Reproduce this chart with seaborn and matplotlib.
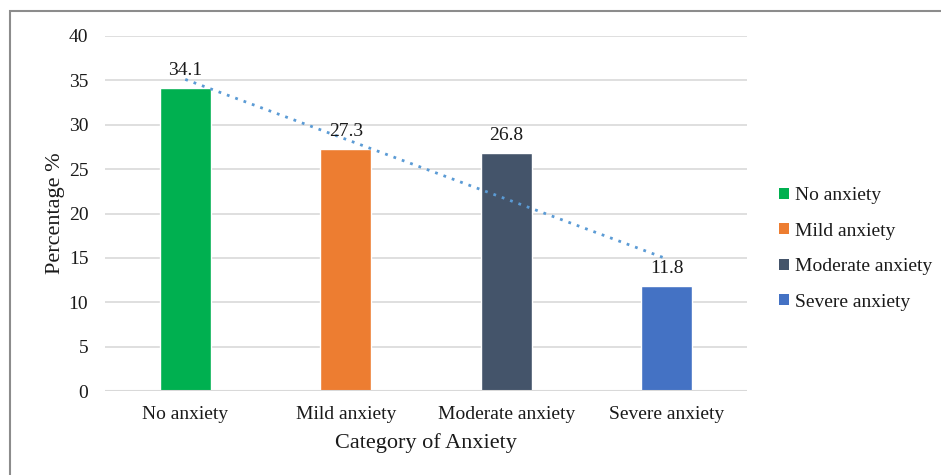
import numpy as np
import pandas as pd
import matplotlib
matplotlib.use("Agg")
import matplotlib.pyplot as plt
from matplotlib.patches import Rectangle, Patch
import seaborn as sns

categories = ["No anxiety", "Mild anxiety", "Moderate anxiety", "Severe anxiety"]
percentages = [34.1, 27.3, 26.8, 11.8]
colors = ["#00B050", "#ED7D31", "#44546A", "#4472C4"]
y_ticks = [0, 5, 10, 15, 20, 25, 30, 35, 40]

sns.set_theme(style="white")
plt.rcParams["font.family"] = ["Liberation Serif", "DejaVu Serif"]

df = pd.DataFrame({"Category": categories, "Percentage": percentages})

fig = plt.figure(figsize=(9.41, 4.75), dpi=100)
ax = fig.add_axes([105 / 941, 1 - 391 / 475, 642 / 941, 355 / 475])

sns.barplot(data=df, x="Category", y="Percentage", hue="Category",
            palette=colors, width=0.32, saturation=1, legend=False, ax=ax)

# linear trend line across the categories
xs = np.arange(len(categories))
slope, intercept = np.polyfit(xs, percentages, 1)
ax.plot(xs, slope * xs + intercept, color="#5B9BD5", linestyle=(0, (1, 2.2)),
        linewidth=2.0, zorder=3)

for container in ax.containers:
    ax.bar_label(container, fmt="%.1f", padding=6.5, fontsize=14, color="#1a1a1a")

ax.set_ylim(0, 40)
ax.set_xlim(-0.5, 3.5)
ax.set_yticks(y_ticks)
ax.yaxis.grid(True, color="#D9D9D9", linewidth=1.2)
ax.set_axisbelow(True)
for s in ax.spines.values():
    s.set_visible(False)
ax.axhline(0, color="#D9D9D9", linewidth=1.5, zorder=1)
ax.tick_params(axis="both", length=0, labelsize=14, colors="#1a1a1a")
ax.tick_params(axis="x", pad=11)
ax.tick_params(axis="y", pad=12)
ax.set_xlabel("Category of Anxiety", fontsize=16, color="#1a1a1a", labelpad=7)
ax.set_ylabel("Percentage %", fontsize=16, color="#1a1a1a", labelpad=3)

handles = [Patch(facecolor=c, edgecolor="none") for c in colors]
fig.legend(handles, categories, loc="center left",
           bbox_to_anchor=(779 / 941, 1 - 249 / 475), frameon=False,
           fontsize=14, handlelength=0.5, handleheight=0.5, handletextpad=0.3,
           labelspacing=0.95, borderpad=0, borderaxespad=0,
           labelcolor="#1a1a1a")

# chart frame
fig.patches.append(Rectangle((9.5 / 941, -0.1), 1.2, 1 - 11.5 / 475 + 0.1,
                             transform=fig.transFigure, fill=False,
                             edgecolor="#8C8C8C", linewidth=1.5))

fig.savefig("out.png", dpi=100)
